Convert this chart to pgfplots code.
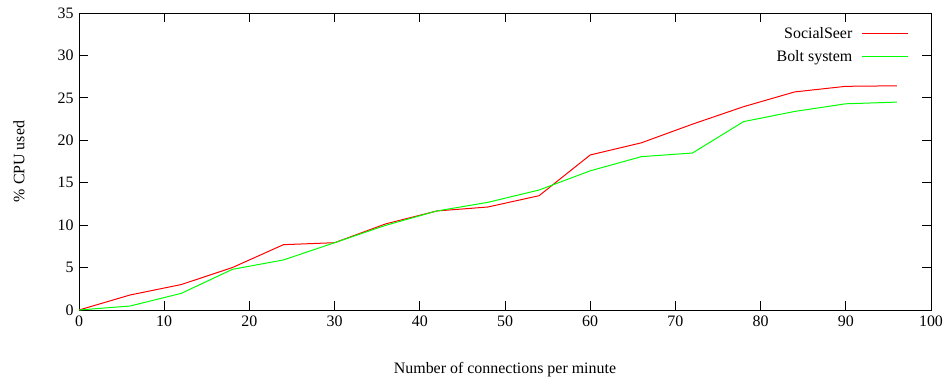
\documentclass[border=0pt]{standalone}
\usepackage{fontspec}
\setmainfont{Liberation Serif}
\usepackage{pgfplots}
\pgfplotsset{compat=1.18}
\begin{document}
\fontsize{16}{19}\selectfont
\begin{tikzpicture}
\useasboundingbox (-79bp,-75bp) rectangle (866bp,310bp);
\begin{axis}[
  scale only axis,
  width=852bp, height=297bp,
  xmin=0, xmax=100, ymin=0, ymax=35,
  xtick={0,10,...,100}, ytick={0,5,...,35},
  tick align=inside,
  major tick length=9bp,
  axis line style={line width=0.8bp},
  every tick/.style={black, line width=0.8bp},
  /pgf/number format/assume math mode=true,
  tick label style={font=\fontsize{16}{19}\selectfont},
  xlabel={Number of connections per minute},
  ylabel={\% CPU used},
  xlabel style={at={(axis description cs:0.5,0)}, anchor=center, yshift=-60bp},
  ylabel style={at={(axis description cs:0,0.5)}, anchor=center, yshift=60bp},
  legend style={draw=none, fill=none, inner sep=0pt, at={(axis cs:97.4,33.6)}, anchor=north east,
    legend cell align=right, row sep=6bp, column sep=7bp, font=\fontsize{16}{19}\selectfont},
  legend plot pos=right,
  legend image code/.code={\draw[#1, line width=1.3bp] plot coordinates {(0bp,0.5bp) (46bp,0.5bp)};},
]
\addplot[red, line width=1bp] coordinates {
(0,0) (6,1.77) (12,3.0) (18,5.0) (24,7.7) (30,7.93) (36,10.15) (42,11.67)
(48,12.14) (54,13.47) (60,18.27) (66,19.7) (72,21.9) (78,23.96) (84,25.7)
(90,26.36) (96,26.42)};
\addlegendentry{SocialSeer}
\addplot[green, line width=1bp] coordinates {
(0,0) (6,0.47) (12,1.96) (18,4.79) (24,5.9) (30,7.93) (36,9.98) (42,11.67)
(48,12.69) (54,14.14) (60,16.4) (66,18.07) (72,18.5) (78,22.2) (84,23.4)
(90,24.3) (96,24.5)};
\addlegendentry{Bolt system}
\end{axis}
\end{tikzpicture}
\end{document}
